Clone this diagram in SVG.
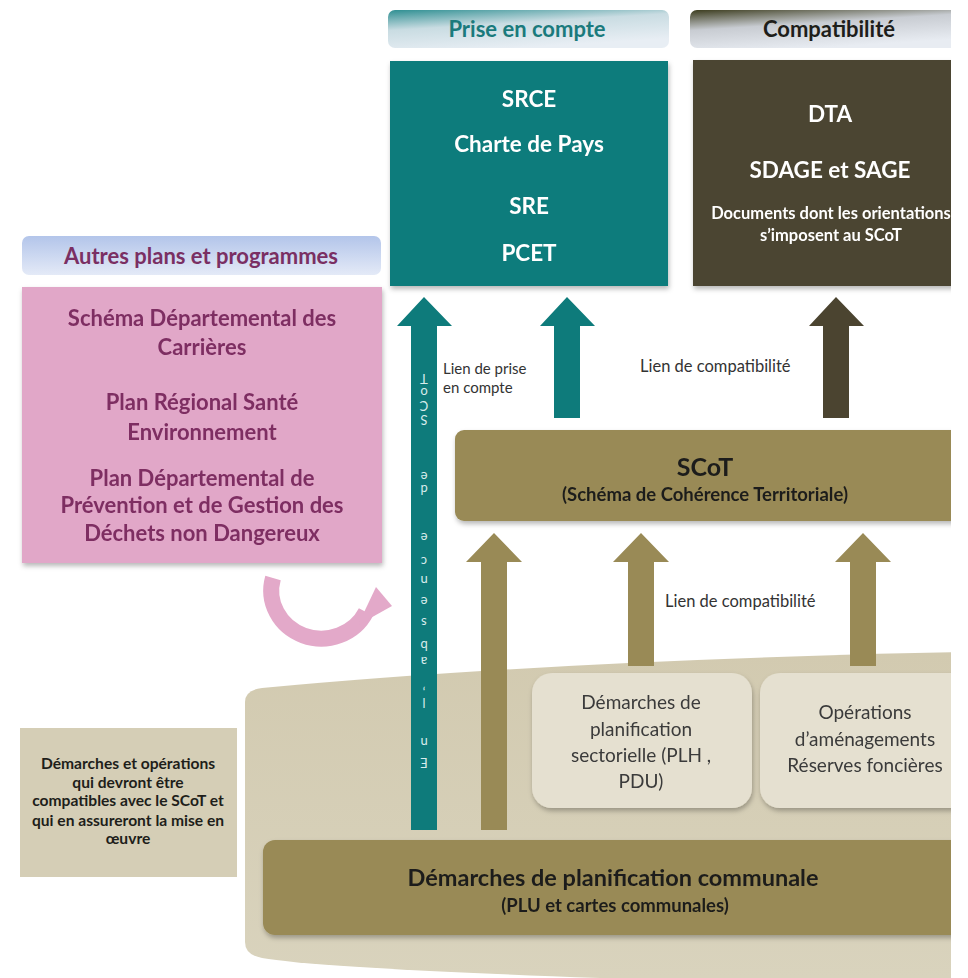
<svg xmlns="http://www.w3.org/2000/svg" width="968" height="978" viewBox="0 0 968 978">
<defs>
  <style>
    text { font-family: Lato, "Liberation Sans", sans-serif; }
    .b { font-weight: bold; }
    .w { fill: #ffffff; }
    .c { text-anchor: middle; }
    .lbl { font-size: 15px; fill: #333333; }
    .lbl2 { font-size: 16.5px; fill: #333333; }
    .pink { fill: #7e2e62; font-weight: bold; font-size: 22px; text-anchor: middle; }
    .dark { fill: #1e1e1a; }
    .grey { fill: #3a3a3a; font-size: 19px; text-anchor: middle; }
    .leg { fill: #1e1e1a; font-weight: bold; font-size: 15.6px; text-anchor: middle; }
  </style>
  <linearGradient id="gTeal" x1="0" y1="0" x2="0.45" y2="1">
    <stop offset="0" stop-color="#2f8f92"/>
    <stop offset="0.45" stop-color="#c9dce2"/>
    <stop offset="1" stop-color="#e8eef4"/>
  </linearGradient>
  <linearGradient id="gOlive" x1="0" y1="0" x2="0.45" y2="1">
    <stop offset="0" stop-color="#3c3c1e"/>
    <stop offset="0.45" stop-color="#c8ccd2"/>
    <stop offset="1" stop-color="#e8ecf2"/>
  </linearGradient>
  <linearGradient id="gBlue" x1="0" y1="0" x2="0" y2="1">
    <stop offset="0" stop-color="#b3c5ea"/>
    <stop offset="1" stop-color="#e4eaf7"/>
  </linearGradient>
  <linearGradient id="gBeige" x1="0" y1="0" x2="0" y2="1">
    <stop offset="0" stop-color="#d2cab0"/>
    <stop offset="1" stop-color="#d9d3bd"/>
  </linearGradient>
  <filter id="sh" x="-5%" y="-5%" width="115%" height="125%">
    <feDropShadow dx="1" dy="3" stdDeviation="2.5" flood-color="#000000" flood-opacity="0.28"/>
  </filter>
  <clipPath id="clipR"><rect x="0" y="0" width="951" height="978"/></clipPath>
</defs>
<rect x="0" y="0" width="968" height="978" fill="#ffffff"/>
<g clip-path="url(#clipR)">

<g id="base">
  <path d="M 245 702 Q 245 690 262 688 Q 560 660 968 652 L 968 978 L 600 978 Q 320 968 262 958 Q 245 955 245 942 Z" fill="url(#gBeige)"/>
</g>

<g id="hdr-prise">
  <rect x="388" y="10" width="281" height="38" rx="7" fill="url(#gTeal)"/>
  <text x="527" y="37" class="b c" font-size="22" fill="#1a7a7c">Prise en compte</text>
</g>
<g id="hdr-compat">
  <rect x="690" y="10" width="275" height="38" rx="7" fill="url(#gOlive)"/>
  <text x="829" y="37" class="b c dark" font-size="22">Compatibilité</text>
</g>

<g id="box-prise" filter="url(#sh)">
  <rect x="390" y="61" width="278" height="225" fill="#0e7b7b"/>
  <text x="529" y="107" class="b c w" font-size="22.5">SRCE</text>
  <text x="529" y="152" class="b c w" font-size="22.5">Charte de Pays</text>
  <text x="529" y="214" class="b c w" font-size="22.5">SRE</text>
  <text x="529" y="261" class="b c w" font-size="22.5">PCET</text>
</g>

<g id="box-compat" filter="url(#sh)">
  <rect x="693" y="60" width="275" height="226" fill="#4b4430"/>
  <text x="830" y="122" class="b c w" font-size="22.5">DTA</text>
  <text x="830" y="178" class="b c w" font-size="22.5">SDAGE et SAGE</text>
  <text x="831" y="219" class="b c w" font-size="16.5">Documents dont les orientations</text>
  <text x="831" y="241" class="b c w" font-size="16.5">s’imposent au SCoT</text>
</g>

<g id="hdr-autres">
  <rect x="22" y="236" width="359" height="39" rx="7" fill="url(#gBlue)"/>
  <text x="201" y="264" class="b c" font-size="22" fill="#7a2f63">Autres plans et programmes</text>
</g>

<g id="box-autres" filter="url(#sh)">
  <rect x="22" y="287" width="360" height="276" fill="#e1a7c8"/>
  <text x="202" y="325.5" class="pink">Schéma Départemental des</text>
  <text x="202" y="354.5" class="pink">Carrières</text>
  <text x="202" y="409.5" class="pink">Plan Régional Santé</text>
  <text x="202" y="439.5" class="pink">Environnement</text>
  <text x="202" y="485.5" class="pink">Plan Départemental de</text>
  <text x="202" y="512.5" class="pink">Prévention et de Gestion des</text>
  <text x="202" y="540.5" class="pink">Déchets non Dangereux</text>
</g>

<g id="connectors">
  <path d="M 273 578 A 50 48 0 0 0 366 612" fill="none" stroke="#e3a9c9" stroke-width="16"/>
  <polygon points="376,587 392,606 358,625" fill="#e3a9c9"/>

  <polygon points="424,297 452,326 437,326 437,830 411,830 411,326 397,326" fill="#0e7b7b"/>
  <polygon points="567,297 595,326 580,326 580,418 554,418 554,326 540,326" fill="#0e7b7b"/>
  <polygon points="836,297 864,326 849,326 849,418 823,418 823,326 809,326" fill="#4b4430"/>
  <polygon points="494,533 522,562 507,562 507,830 481,830 481,562 466,562" fill="#998a56"/>
  <polygon points="641,533 669,562 654,562 654,666 628,666 628,562 613,562" fill="#998a56"/>
  <polygon points="863,533 891,562 876,562 876,666 850,666 850,562 835,562" fill="#998a56"/>

  <text class="lbl" x="443" y="374">Lien de prise</text>
  <text class="lbl" x="443" y="393">en compte</text>
  <text class="lbl2" x="640" y="372">Lien de compatibilité</text>
  <text class="lbl2" x="665" y="607">Lien de compatibilité</text>

  <g transform="rotate(180 424 571)">
    <text x="424 424 424 424 424 424 424 424 424 424 424 424 424 424 424 424 424 424 424 424" y="384 404 424 444 462 485 501 524 545 566 585 609 633 657 670 699 727 741 754 768" class="c" font-size="13" fill="#d8ecec" font-family="'Open Sans', Lato, sans-serif">En l’absence de SCoT</text>
  </g>
</g>

<g id="box-scot" filter="url(#sh)">
  <rect x="455" y="430" width="513" height="91" rx="9" fill="#998a56"/>
  <text x="705" y="476" class="b c dark" font-size="25">SCoT</text>
  <text x="705" y="501" class="b c dark" font-size="18.5">(Schéma de Cohérence Territoriale)</text>
</g>

<g id="box-sectorielle" filter="url(#sh)">
  <rect x="532" y="673" width="220" height="135" rx="20" fill="#e5e0d0"/>
  <text x="641" y="709" class="grey">Démarches de</text>
  <text x="641" y="736" class="grey">planification</text>
  <text x="641" y="762" class="grey">sectorielle (PLH ,</text>
  <text x="641" y="788" class="grey">PDU)</text>
</g>

<g id="box-operations" filter="url(#sh)">
  <rect x="760" y="673" width="215" height="135" rx="20" fill="#e5e0d0"/>
  <text x="865" y="719" class="grey">Opérations</text>
  <text x="865" y="746" class="grey">d’aménagements</text>
  <text x="865" y="772" class="grey">Réserves foncières</text>
</g>

<g id="box-communale" filter="url(#sh)">
  <rect x="263" y="840" width="712" height="95" rx="12" fill="#998a56"/>
  <text x="613" y="886" class="b c dark" font-size="23.5">Démarches de planification communale</text>
  <text x="615" y="912" class="b c dark" font-size="18.5">(PLU et cartes communales)</text>
</g>

</g>

<g id="box-legend">
  <rect x="20" y="728" width="217" height="149" fill="#d5ceb6"/>
  <text x="128" y="768.5" class="leg">Démarches et opérations</text>
  <text x="128" y="787.5" class="leg">qui devront être</text>
  <text x="128" y="806" class="leg">compatibles avec le SCoT et</text>
  <text x="128" y="825.5" class="leg">qui en assureront la mise en</text>
  <text x="128" y="844" class="leg">œuvre</text>
</g>
</svg>
